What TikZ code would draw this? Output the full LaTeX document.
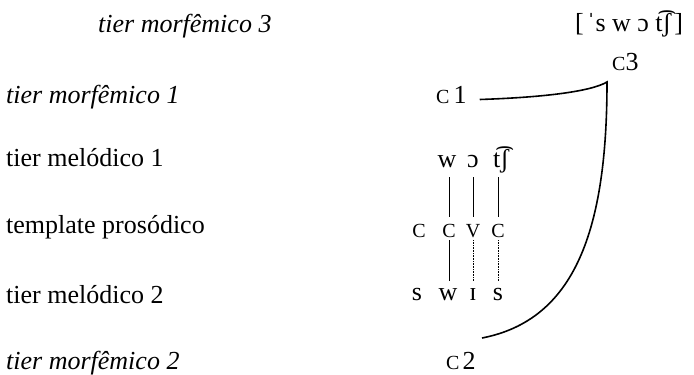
\documentclass[tikz,border=0pt]{standalone}
\usepackage{fontspec}
\setmainfont{Liberation Serif}
\newcommand\smC{{\fontsize{20}{22}\selectfont C}}
\tikzset{
  lbl/.style={anchor=base west, inner sep=0pt, font=\fontsize{26}{30}\selectfont},
  ilbl/.style={lbl, font=\fontsize{26}{30}\selectfont\itshape},
  seg/.style={anchor=base, inner sep=0pt, font=\fontsize{26}{30}\selectfont, text height=17pt, text depth=0pt},
  tpl/.style={anchor=base, inner sep=0pt, font=\fontsize{20}{22}\selectfont, text height=14pt, text depth=0pt},
  low/.style={anchor=base, inner sep=0pt, font=\fontsize{26}{30}\selectfont, text height=12pt, text depth=0pt},
  cc/.style={anchor=base west, inner sep=0pt, font=\fontsize{26}{30}\selectfont, text height=13pt, text depth=0pt},
  solidl/.style={line width=1pt},
  dotl/.style={line width=0.8pt, dash pattern=on 0.8pt off 0.8pt},
  bigl/.style={line width=1.6pt}
}
\begin{document}
\begin{tikzpicture}[x=1pt,y=-1pt]
\useasboundingbox (0,0) rectangle (694,375);
% left labels
\node[ilbl] (lm3) at (98,32) {tier morfêmico 3};
\node[ilbl] (lm1) at (6,103) {tier morfêmico 1};
\node[lbl] (lt1) at (6,166) {tier melódico 1};
\node[lbl] (ltp) at (6,233) {template prosódico};
\node[lbl] (lt2) at (6,303) {tier melódico 2};
\node[ilbl] (lm2) at (6,369) {tier morfêmico 2};
% output form
\node[lbl] (out) at (575,31) {[\hspace{3pt}ˈs w ɔ t͡ʃ\hspace{3pt}]};
% morphemic tier nodes
\node[cc] (c3) at (612,70) {\smC3};
\node[cc] (c1) at (436,103) {\smC\hspace{4pt}1};
\node[cc] (c2) at (446,369) {\smC\hspace{3pt}2};
% melodic tier 1
\node[seg] (m1) at (447,167) {w};
\node[seg] (m2) at (473,167) {ɔ};
\node[seg] (m3) at (501,167) {t͡ʃ};
% template
\node[tpl] (t1) at (419,237) {C};
\node[tpl] (t2) at (449,237) {C};
\node[tpl] (t3) at (473,237) {V};
\node[tpl] (t4) at (498,237) {C};
% melodic tier 2
\node[low] (b1) at (417,300) {s};
\node[low] (b2) at (448,300) {w};
\node[low] (b3) at (473,300) {ɪ};
\node[low] (b4) at (498,300) {s};
% association lines
\draw[solidl, shorten <=10pt, shorten >=6pt] (m1.south -| t2) -- (t2.north);
\draw[solidl, shorten <=10pt, shorten >=6pt] (m2.south -| t3) -- (t3.north);
\draw[solidl, shorten <=10pt, shorten >=6pt] (m3.south -| t4) -- (t4.north);
\draw[solidl, shorten <=3pt, shorten >=7pt] (t2.south) -- (t2.south |- b2.north);
\draw[dotl, shorten <=3pt, shorten >=7pt] (t3.south) -- (t3.south |- b3.north);
\draw[dotl, shorten <=3pt, shorten >=7pt] (t4.south) -- (t4.south |- b4.north);
% big bracket connector
\coordinate (corner) at (607,82);
\coordinate (c2end) at (482,338);
\draw[bigl] ([shift={(13pt,-3pt)}]c1.east) .. controls +(60,-2) and +(-17,10) .. (corner)
   .. controls +(0,148) and +(93,-18) .. (c2end);
\end{tikzpicture}
\end{document}
